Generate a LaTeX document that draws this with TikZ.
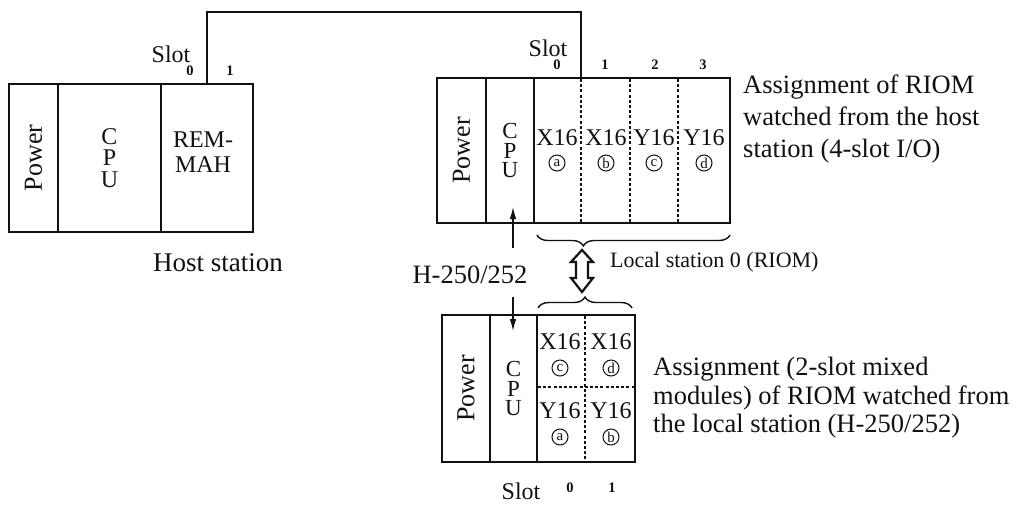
\documentclass[tikz,border=0pt]{standalone}
\usepackage{fontspec}
\setmainfont{Liberation Serif}
\usetikzlibrary{arrows.meta,positioning,calc,decorations.pathreplacing}
\definecolor{Ink}{HTML}{111111}
\definecolor{Paper}{HTML}{FFFFFF}

\begin{document}
\begin{tikzpicture}[x=1pt,y=-1pt,
  unit/.style={draw=Ink,line width=1.2pt,inner sep=0pt},
  iobox/.style={draw=Ink,line width=2.1pt,inner sep=0pt},
  divider/.style={draw=Ink,line width=1.2pt,dash pattern=on 3pt off 2.2pt},
  wire/.style={draw=Ink,line width=1.2pt},
  bigtext/.style={font=\fontsize{26.5}{31}\selectfont,text=Ink,inner sep=0pt},
  modtext/.style={font=\fontsize{24}{26}\selectfont,text=Ink,inner sep=0pt},
  powtext/.style={font=\fontsize{26}{28}\selectfont,text=Ink},
  cputext/.style={align=center,font=\fontsize{23}{19.5}\selectfont,text=Ink,inner sep=0pt},
  slotno/.style={font=\bfseries\fontsize{14.5}{16}\selectfont,text=Ink,inner sep=0pt},
  chip/.style={circle,draw=Ink,line width=1pt,minimum size=16pt,inner sep=0pt,
    font=\fontsize{15}{15}\selectfont,text=Ink},
  bracket/.style={draw=Ink,line width=1.4pt,decorate,
    decoration={brace,amplitude=11pt,aspect=#1}}]
  \fill[Paper] (0,0) rectangle (1018,507);
  \useasboundingbox (0,0) rectangle (1018,507);

  \node[unit,powtext,minimum width=49,minimum height=148] (hpow) at (33.5,158) {\rotatebox{90}{Power}};
  \node[unit,cputext,font=\fontsize{24}{21.5}\selectfont,minimum width=103,minimum height=148]
    (hcpu) at (109.5,158) {C\\P\\U};
  \node[iobox,minimum width=92,minimum height=148] (hrem) at (207,158) {};
  \node[modtext,align=center,font=\fontsize{24}{25}\selectfont] (remtxt) at (203,152) {REM-\\MAH};
  \node[bigtext,font=\fontsize{27}{31}\selectfont] (hostlbl) at (218,263) {Host station};
  \node[modtext] (hslot) at (171,54) {Slot};
  \foreach \x/\n in {190/0,230/1} {
    \node[slotno] (hs\n) at (\x,71) {\n};
  }

  \node[unit,powtext,minimum width=49,minimum height=145] (rpow) at (461.5,150.5) {\rotatebox{90}{Power}};
  \node[unit,cputext,minimum width=48,minimum height=145] (rcpu) at (510,150.5) {C\\P\\U};
  \node[iobox,minimum width=196,minimum height=145] (rio) at (632,150.5) {};
  \foreach \x in {581,630,678} {
    \draw[divider] (\x,79) -- (\x,222);
  }
  \foreach \x/\t/\c in {557/X16/a,606/X16/b,654/Y16/c,704/Y16/d} {
    \node[modtext] (rm\c) at (\x,138) {\t};
    \node[chip] (rc\c) at (\x,163) {\c};
  }
  \node[modtext] (rslot) at (548,48) {Slot};
  \foreach \x/\n in {557/0,605/1,655/2,703/3} {
    \node[slotno] (rs\n) at (\x,65) {\n};
  }

  \coordinate (rlink) at (581,78);
  \draw[wire] (hrem.north) |- ([yshift=66pt]rlink) -- (rlink);

  \node[bigtext,align=left,anchor=north west,font=\fontsize{26.5}{32}\selectfont]
    (hostview) at (743,75) {Assignment of RIOM\\watched from the host\\station (4-slot I/O)};

  \draw[bracket=0.76] (730,235) -- (537,235);
  \draw[draw=Ink,line width=2.2pt,line join=miter]
    (582,250) -- (593,262) -- (588,262) -- (588,278) -- (593,278) -- (582,292)
    -- (571,278) -- (576,278) -- (576,262) -- (571,262) -- cycle;
  \node[anchor=west,inner sep=0pt,font=\fontsize{22}{26}\selectfont,text=Ink]
    (loclbl) at (610,262) {Local station 0 (RIOM)};
  \draw[bracket=0.5] (538,308) -- (632,308);

  \node[bigtext] (hlbl) at (470,275) {H-250/252};
  \coordinate (uptail) at (513,248);
  \coordinate (uptip) at (513,207);
  \coordinate (dntail) at (513,297);
  \coordinate (dntip) at (513,331);
  \draw[wire,-{Latex[length=12pt,width=6.5pt]}] (uptail) -- (uptip);
  \draw[wire,-{Latex[length=12pt,width=6.5pt]}] (dntail) -- (dntip);

  \node[unit,powtext,minimum width=48,minimum height=147] (lpow) at (466,388.5) {\rotatebox{90}{Power}};
  \node[unit,cputext,minimum width=47,minimum height=147] (lcpu) at (513.5,388.5) {C\\P\\U};
  \node[iobox,minimum width=98,minimum height=147] (lio) at (586,388.5) {};
  \draw[divider] (585,316) -- (585,461);
  \draw[divider] (538,387) -- (634,387);
  \foreach \x/\t/\c/\y in {560/X16/c/342,611/X16/d/342,560/Y16/a/411,611/Y16/b/411} {
    \node[modtext] (lm\c) at (\x,\y) {\t};
    \node[chip] (lc\c) at (\x,\y+26) {\c};
  }
  \node[modtext] (lslot) at (521,491) {Slot};
  \foreach \x/\n in {570/0,612/1} {
    \node[slotno] (ls\n) at (\x,488) {\n};
  }

  \node[bigtext,align=left,anchor=north west,font=\fontsize{26.5}{28.5}\selectfont]
    (localview) at (653,357) {Assignment (2-slot mixed\\modules) of RIOM watched from\\the local station (H-250/252)};
\end{tikzpicture}
\end{document}
